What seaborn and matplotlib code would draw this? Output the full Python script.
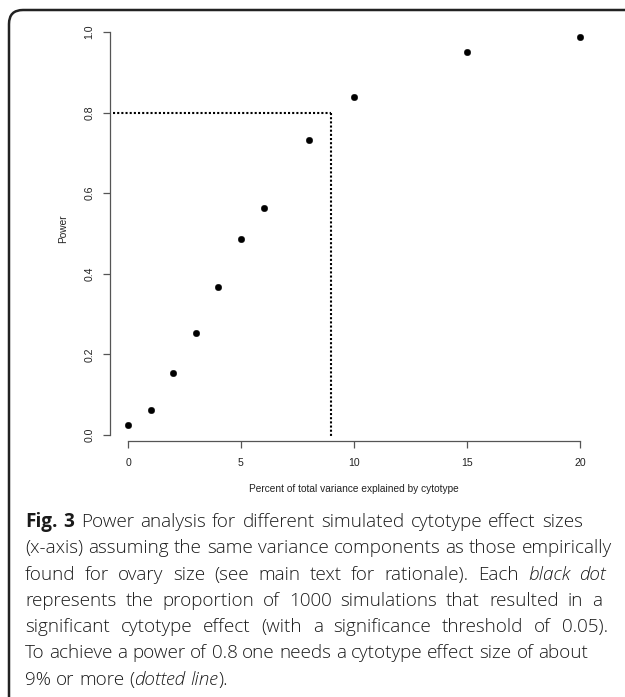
import matplotlib
matplotlib.use("Agg")
import matplotlib.pyplot as plt
from matplotlib.patches import FancyBboxPatch
import seaborn as sns
import pandas as pd

# ---- data ----
effect_size = [0, 1, 2, 3, 4, 5, 6, 8, 10, 15, 20]
power = [0.025, 0.063, 0.153, 0.252, 0.368, 0.486, 0.563, 0.732, 0.838, 0.951, 0.988]
x_ticks = [0, 5, 10, 15, 20]
x_tick_labels = ["0", "5", "10", "15", "20"]
y_ticks = [0.0, 0.2, 0.4, 0.6, 0.8, 1.0]
y_tick_labels = ["0.0", "0.2", "0.4", "0.6", "0.8", "1.0"]
target_power = 0.8
target_effect = 9
x_label = "Percent of total variance explained by cytotype"
y_label = "Power"

caption_lines = [
    [[("Fig.", "bold")], [("3", "bold")], [("Power", "n")], [("analysis", "n")], [("for", "n")],
     [("different", "n")], [("simulated", "n")], [("cytotype", "n")], [("effect", "n")], [("sizes", "n")]],
    [[("(x-axis)", "n")], [("assuming", "n")], [("the", "n")], [("same", "n")], [("variance", "n")],
     [("components", "n")], [("as", "n")], [("those", "n")], [("empirically", "n")]],
    [[("found", "n")], [("for", "n")], [("ovary", "n")], [("size", "n")], [("(see", "n")], [("main", "n")],
     [("text", "n")], [("for", "n")], [("rationale).", "n")], [("Each", "n")], [("black", "i")], [("dot", "i")]],
    [[("represents", "n")], [("the", "n")], [("proportion", "n")], [("of", "n")], [("1000", "n")],
     [("simulations", "n")], [("that", "n")], [("resulted", "n")], [("in", "n")], [("a", "n")]],
    [[("significant", "n")], [("cytotype", "n")], [("effect", "n")], [("(with", "n")], [("a", "n")],
     [("significance", "n")], [("threshold", "n")], [("of", "n")], [("0.05).", "n")]],
    [[("To", "n")], [("achieve", "n")], [("a", "n")], [("power", "n")], [("of", "n")], [("0.8", "n")],
     [("one", "n")], [("needs", "n")], [("a", "n")], [("cytotype", "n")], [("effect", "n")], [("size", "n")],
     [("of", "n")], [("about", "n")]],
    [[("9%", "n")], [("or", "n")], [("more", "n")], [("(", "n"), ("dotted", "i")], [("line", "i"), (").", "n")]],
]
line_right_px = [583, 612, 606, 602, 608, 588, None]

W, H = 625, 697
sns.set_theme(style="ticks")
plt.rcParams["font.family"] = ["Liberation Sans", "DejaVu Sans"]

fig = plt.figure(figsize=(W / 100, H / 100), dpi=100)
fig.patch.set_facecolor("white")

# axes geometry in pixels (from top)
x0_px, x_slope = 128.0, 22.6
y0_px, y_slope = 435.0, 403.0
xl = (-0.8, 20.8)
yl = (-6 / y_slope, 1.04)
left = (x0_px + xl[0] * x_slope) / W
right = (x0_px + xl[1] * x_slope) / W
bottom = (H - (y0_px - yl[0] * y_slope)) / H
top = (H - (y0_px - yl[1] * y_slope)) / H
ax = fig.add_axes([left, bottom, right - left, top - bottom])
ax.set_facecolor("white")

df = pd.DataFrame({"x": effect_size, "y": power})
sns.scatterplot(data=df, x="x", y="y", ax=ax, color="black", s=22, edgecolor="black", linewidth=0.3, zorder=3)

dot_style = dict(color="black", linewidth=1.5, linestyle=(0, (1, 1.0)))
ax.plot([xl[0] + 0.15, target_effect], [target_power, target_power], **dot_style)
ax.plot([target_effect, target_effect], [target_power, yl[0] + 0.01], **dot_style)

ax.set_xlim(*xl)
ax.set_ylim(*yl)
ax.set_xticks(x_ticks)
ax.set_xticklabels(x_tick_labels)
ax.set_yticks(y_ticks)
ax.set_yticklabels(y_tick_labels, rotation=90, va="center")
for s in ["top", "right"]:
    ax.spines[s].set_visible(False)
axis_col = "#555555"
ax.spines["left"].set_bounds(0, 1)
ax.spines["bottom"].set_bounds(0, 20)
for s in ["left", "bottom"]:
    ax.spines[s].set_color(axis_col)
    ax.spines[s].set_linewidth(0.9)
ax.tick_params(axis="both", length=5, width=0.9, color=axis_col, labelsize=7.6, labelcolor="#222222")
ax.tick_params(axis="x", pad=7)
ax.tick_params(axis="y", pad=6)
ax.set_xlabel(x_label, fontsize=7.3, color="#222222", labelpad=12)
ax.set_ylabel(y_label, fontsize=7.3, color="#222222", labelpad=12)
ax.grid(False)

# ---- border ----
border = FancyBboxPatch((9, -30), W + 40, H - 10 + 30, boxstyle="round,pad=0,rounding_size=14",
                        transform=None, facecolor="none", edgecolor="#222222", linewidth=1.8, zorder=10)
fig.patches.append(border)

# ---- caption ----
cap_font = ["Open Sans", "Noto Sans", "DejaVu Sans"]
renderer = fig.canvas.get_renderer()


def style_kw(st, fs):
    kw = dict(fontsize=fs, family=cap_font, color="#1a1a1a", weight="light")
    if st == "bold":
        kw["weight"] = "bold"
    elif st == "i":
        kw["style"] = "italic"
    return kw


def run_width(txt, st, fs):
    t = fig.text(0, 0, txt, **style_kw(st, fs))
    w = t.get_window_extent(renderer).width
    t.remove()
    return w


def word_width(word, fs):
    return sum(run_width(t, s, fs) for t, s in word)


base_fs = 12.0
sp_base = run_width("a a", "n", base_fs) - run_width("aa", "n", base_fs)
nat6 = sum(word_width(w, base_fs) for w in caption_lines[5]) + sp_base * (len(caption_lines[5]) - 1)
fs = base_fs * (588 - 25) / nat6
space_w = run_width("a a", "n", fs) - run_width("aa", "n", fs)

cap_left = 25
base_y0 = 527
line_gap = 26.3
for i, line in enumerate(caption_lines):
    widths = [word_width(w, fs) for w in line]
    if line_right_px[i] is not None and len(line) > 1:
        gap = (line_right_px[i] - cap_left - sum(widths)) / (len(line) - 1)
    else:
        gap = space_w
    xpos = cap_left
    ypix = H - (base_y0 + i * line_gap)
    for w, ww in zip(line, widths):
        xr = xpos
        for txt, st in w:
            t = fig.text(xr / W, ypix / H, txt, ha="left", va="baseline", **style_kw(st, fs))
            xr += run_width(txt, st, fs)
        xpos += ww + gap

fig.savefig("out.png", dpi=100, facecolor="white")
